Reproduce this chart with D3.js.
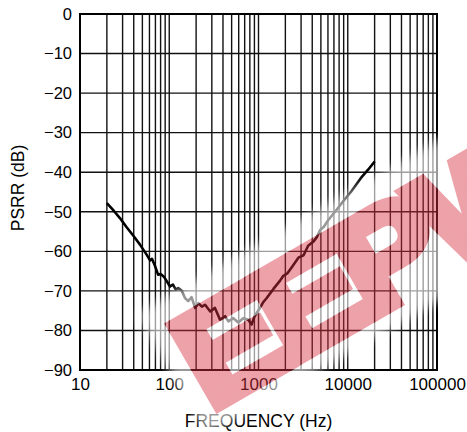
<!DOCTYPE html>
<html lang="en">
<head>
<meta charset="utf-8">
<title>PSRR vs Frequency</title>
<script src="https://cdn.jsdelivr.net/npm/d3@7"></script>
<style>
    body { margin: 0; background: #fff; }
    svg { font-family: "Liberation Sans", Arial, sans-serif; }
    .tick text { fill: #000; }
</style>
</head>
<body>
<div id="chart"></div>
<script>
// data
const freq_hz = [20, 24, 28, 33, 40, 47, 56, 61, 64, 69, 75, 80, 87, 94, 102, 110, 118, 126,
    138, 150, 163, 178, 195, 212, 232, 252, 288, 325, 371, 422, 460, 523, 594, 675, 768, 838,
    900, 953, 1040, 1135, 1236, 1470, 1745, 1900, 2100, 2360, 2800, 3200, 3600, 4100, 4500,
    4900, 5400, 6000, 7200, 9000, 11000, 14000, 17000, 20000];
const psrr_db = [-47.8, -49.8, -51.6, -53.8, -56.2, -58.3, -60.9, -62.3, -61.9, -63.6, -65.9,
    -65.7, -66.4, -67.6, -68.9, -68.4, -69.6, -69.3, -69.9, -71.8, -72.6, -71.6, -74.3, -73.1,
    -74.0, -73.5, -75.2, -74.3, -77.3, -76.4, -77.7, -76.9, -78.0, -76.9, -77.3, -78.5, -76.5,
    -75.6, -74.3, -72.8, -71.8, -69.5, -67.4, -66.2, -65.6, -64.0, -61.6, -61.0, -58.6, -57.6,
    -56.4, -54.6, -53.8, -52.2, -50.0, -47.2, -44.8, -41.5, -39.3, -37.3];
const x_ticks = [10, 100, 1000, 10000, 100000];
const y_ticks = [0, -10, -20, -30, -40, -50, -60, -70, -80, -90];
const watermark = "EEPW";

const width = 467, height = 432,
    margin = {top: 14, right: 30, bottom: 62, left: 80},
    plot_w = width - margin.left - margin.right,
    plot_h = height - margin.top - margin.bottom;

const svg = d3.select('#chart').append('svg')
    .attr('width', width)
    .attr('height', height);

const chart = svg.append('g')
    .attr('transform', `translate(${margin.left}, ${margin.top})`);

const x = d3.scaleLog().domain([10, 100000]).range([0, plot_w]);
const y = d3.scaleLinear().domain([-90, 0]).range([plot_h, 0]);

// grid: every 1..9 in each decade
const minor = [];
for (let d = 10; d < 100000; d *= 10) {
    for (let k = 1; k < 10; k++) minor.push(d * k);
}
minor.push(100000);

chart.append('g').selectAll('line')
    .data(minor)
    .join('line')
        .attr('x1', d => x(d)).attr('x2', d => x(d))
        .attr('y1', 0).attr('y2', plot_h)
        .attr('stroke', '#111').attr('stroke-width', 1.4);

chart.append('g').selectAll('line')
    .data(y_ticks)
    .join('line')
        .attr('x1', 0).attr('x2', plot_w)
        .attr('y1', d => y(d)).attr('y2', d => y(d))
        .attr('stroke', '#111').attr('stroke-width', 1.4);

chart.append('rect')
    .attr('width', plot_w).attr('height', plot_h)
    .attr('fill', 'none').attr('stroke', '#000').attr('stroke-width', 2);

// axes (labels only)
const y_axis = chart.append('g')
    .call(d3.axisLeft(y).tickValues(y_ticks).tickSize(0).tickPadding(8));
y_axis.select('.domain').remove();
y_axis.selectAll('text').attr('font-size', 16.5).attr('font-family', null);

const x_axis = chart.append('g')
    .attr('transform', `translate(0, ${plot_h})`)
    .call(d3.axisBottom(x).tickValues(x_ticks).tickFormat(d3.format('d')).tickSize(0).tickPadding(8));
x_axis.select('.domain').remove();
x_axis.selectAll('text').attr('font-size', 17).attr('font-family', null);

// the curve
const line = d3.line()
    .x(d => x(d[0]))
    .y(d => y(d[1]));

chart.append('path')
    .datum(d3.zip(freq_hz, psrr_db))
    .attr('d', line)
    .attr('fill', 'none')
    .attr('stroke', '#000')
    .attr('stroke-width', 2.6)
    .attr('stroke-linejoin', 'round');

// axis titles
svg.append('text')
    .attr('x', margin.left + plot_w / 2)
    .attr('y', 427)
    .attr('text-anchor', 'middle')
    .attr('font-size', 17.5)
    .text('FREQUENCY (Hz)');

svg.append('text')
    .attr('transform', `translate(24, ${margin.top + plot_h / 2 - 4}) rotate(-90)`)
    .attr('text-anchor', 'middle')
    .attr('font-size', 17.5)
    .text('PSRR (dB)');

// watermark overlay (heavy letters: bold text with a thick outline, stretched a bit)
const wm_font = 136, wm_x = -4.5, wm_y = -5, wm_stroke = 11, wm_spacing = -7;
const defs = svg.append('defs');
const mask = defs.append('mask').attr('id', 'wm_mask');
mask.append('rect').attr('x', -40).attr('y', -160).attr('width', 600).attr('height', 200).attr('fill', '#fff');
mask.append('text')
    .attr('transform', 'scale(1.1, 1)')
    .attr('x', wm_x).attr('y', wm_y)
    .attr('font-size', wm_font).attr('font-weight', 'bold')
    .attr('letter-spacing', wm_spacing)
    .attr('fill', '#000').attr('stroke', '#000').attr('stroke-width', wm_stroke)
    .text(watermark);

const blur = defs.append('filter').attr('id', 'wm_blur')
    .attr('x', '-20%').attr('y', '-40%').attr('width', '140%').attr('height', '180%');
blur.append('feGaussianBlur').attr('stdDeviation', 5);

const wm = svg.append('g')
    .attr('transform', 'translate(217, 413) rotate(-30)');

wm.append('g').attr('mask', 'url(#wm_mask)')
    .append('rect')
        .attr('x', -20).attr('y', -126)
        .attr('width', 520).attr('height', 140)
        .attr('fill', '#fff').attr('opacity', 0.6)
        .attr('filter', 'url(#wm_blur)');

wm.append('text')
    .attr('transform', 'scale(1.1, 1)')
    .attr('x', wm_x).attr('y', wm_y)
    .attr('font-size', wm_font).attr('font-weight', 'bold')
    .attr('letter-spacing', wm_spacing)
    .attr('fill', '#d9303f').attr('stroke', '#d9303f').attr('stroke-width', wm_stroke)
    .attr('stroke-linejoin', 'miter')
    .attr('opacity', 0.45)
    .text(watermark);
</script>
</body>
</html>
